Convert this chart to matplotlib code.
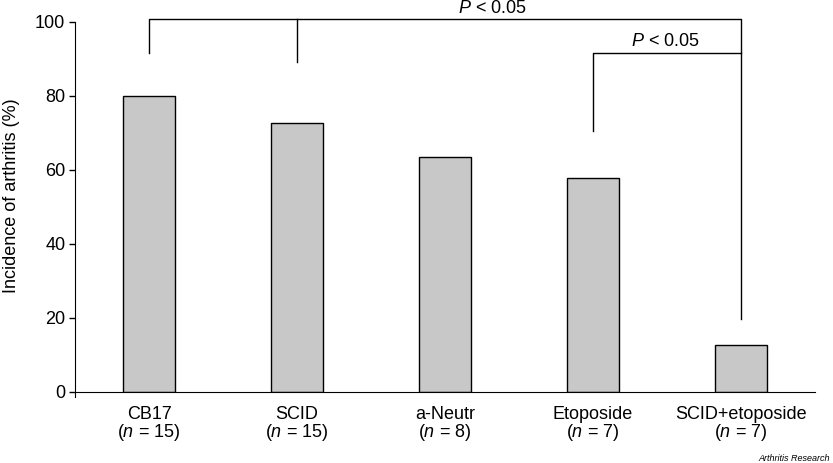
import matplotlib
matplotlib.use("Agg")
import matplotlib.pyplot as plt
import numpy as np

plt.rcParams['font.family'] = ['Liberation Sans', 'DejaVu Sans']
plt.rcParams['mathtext.fontset'] = 'custom'
plt.rcParams['mathtext.rm'] = 'Liberation Sans'
plt.rcParams['mathtext.it'] = 'Liberation Sans:italic'

# Data
groups = ["CB17", "SCID", "a-Neutr", "Etoposide", "SCID+etoposide"]
n_mice = [15, 15, 8, 7, 7]
incidence = [80, 72.5, 63.3, 57.8, 12.5]
y_ticks = [0, 20, 40, 60, 80, 100]

fs = 13

fig = plt.figure(figsize=(8.33, 4.63), dpi=100)
ax = fig.add_axes([75 / 833, 1 - 391.7 / 463, 740 / 833, 370 / 463])

x = np.arange(len(groups))
ax.bar(x, incidence, width=0.35, color="#c8c8c8", edgecolor="black", linewidth=1)

ax.set_xlim(-0.5, 4.5)
ax.set_ylim(0, 100)
ax.set_yticks(y_ticks)
ax.tick_params(axis="y", length=4, width=1, labelsize=fs, pad=3)
ax.tick_params(axis="x", length=0, labelsize=fs, pad=10)
ax.set_xticks(x)
ax.set_xticklabels([f"{g}\n($n$ = {n})" for g, n in zip(groups, n_mice)],
                   linespacing=0.95)
ax.spines["top"].set_visible(False)
ax.spines["right"].set_visible(False)
ax.spines["left"].set_bounds(-1.4, 100)
fig.text(12 / 833, 1 - 196 / 463, "Incidence of arthritis (%)", rotation=90,
         ha="center", va="center", fontsize=fs)

# significance brackets
lw = 1
ax.plot([0, 0, 4, 4], [91.5, 100.6, 100.6, 19.6], color="black", lw=lw, clip_on=False)
ax.plot([1, 1], [100.6, 89.0], color="black", lw=lw, clip_on=False)
ax.text(2.32, 103.5, "$P$ < 0.05", ha="center", va="center", fontsize=fs, clip_on=False)
ax.plot([3, 3, 4], [70.5, 91.5, 91.5], color="black", lw=lw, clip_on=False)
ax.text(3.49, 94.7, "$P$ < 0.05", ha="center", va="center", fontsize=fs)

fig.text(830 / 833, 1 - 461 / 463, "Arthritis Research", ha="right", va="baseline",
         fontsize=6.5, style="italic")

fig.savefig("out.png", dpi=100)
